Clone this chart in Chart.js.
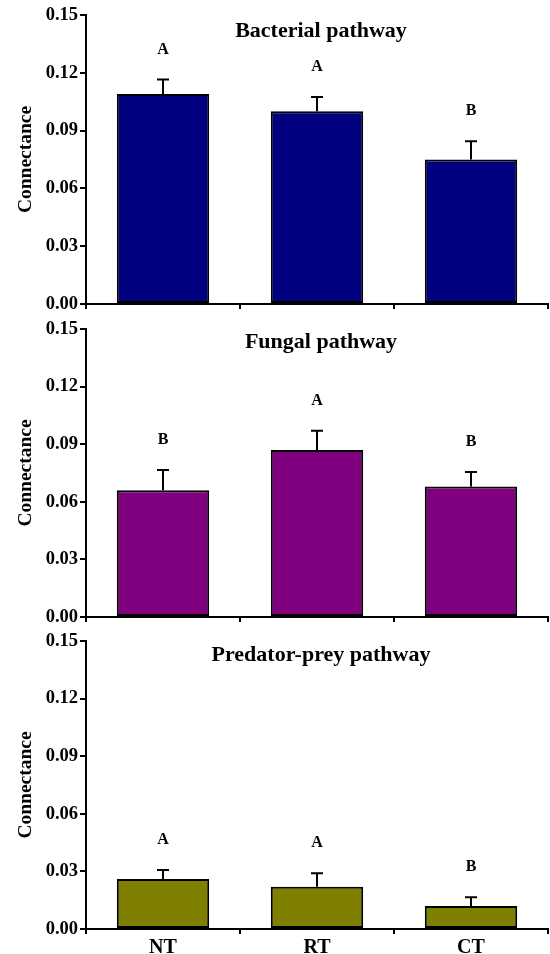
<!DOCTYPE html>
<html>
<head>
<meta charset="utf-8">
<script src="https://cdn.jsdelivr.net/npm/chart.js@4.4.1/dist/chart.umd.min.js"></script>
<style>
    body { margin: 0; background: #fff; }
    #wrap { position: relative; width: 550px; height: 954px; overflow: hidden; }
    canvas { position: absolute; left: 0; }
</style>
</head>
<body>
<div id="wrap">
    <canvas id="bacterialChart" width="550" height="324" style="top:0px"></canvas>
    <canvas id="fungalChart" width="550" height="327" style="top:310px"></canvas>
    <canvas id="predatorChart" width="550" height="329" style="top:625px"></canvas>
</div>
<script>
const categories = ['NT', 'RT', 'CT'];
const yTicks = [0, 0.03, 0.06, 0.09, 0.12, 0.15];

const bacterialMeans = [0.109, 0.100, 0.075];
const bacterialErrors = [0.0075, 0.0075, 0.0095];
const bacterialLetters = ['A', 'A', 'B'];

const fungalMeans = [0.066, 0.087, 0.068];
const fungalErrors = [0.0105, 0.010, 0.0075];
const fungalLetters = ['B', 'A', 'B'];

const predatorMeans = [0.026, 0.022, 0.012];
const predatorErrors = [0.0047, 0.007, 0.0045];
const predatorLetters = ['A', 'A', 'B'];

const serif = '"Liberation Serif", "Times New Roman", serif';

// error bars (upper half only) and the significance letters
const errorBarPlugin = {
    id: 'errorBars',
    afterDatasetsDraw(chart, args, opts) {
        const ctx = chart.ctx;
        const yScale = chart.scales.y;
        const meta = chart.getDatasetMeta(0);
        ctx.save();
        ctx.strokeStyle = '#000';
        ctx.lineWidth = 2;
        meta.data.forEach((bar, i) => {
            const top = yScale.getPixelForValue(opts.means[i] + opts.errors[i]);
            ctx.beginPath();
            ctx.moveTo(bar.x, bar.y);
            ctx.lineTo(bar.x, top);
            ctx.moveTo(bar.x - 6, top);
            ctx.lineTo(bar.x + 6, top);
            ctx.stroke();

            ctx.fillStyle = '#000';
            ctx.font = 'bold 16px ' + serif;
            ctx.textAlign = 'center';
            ctx.textBaseline = 'middle';
            ctx.fillText(opts.letters[i], bar.x, top - 30);
        });
        ctx.restore();
    }
};

// panel title drawn inside the plot area
const panelTitlePlugin = {
    id: 'panelTitle',
    afterDraw(chart, args, opts) {
        const area = chart.chartArea;
        const ctx = chart.ctx;
        ctx.save();
        ctx.fillStyle = '#000';
        ctx.font = 'bold 22px ' + serif;
        ctx.textAlign = 'center';
        ctx.textBaseline = 'middle';
        ctx.fillText(opts.text, (area.left + area.right) / 2 + 4, area.top + opts.offset);
        ctx.restore();
    }
};

function makePanel(canvasId, means, errors, letters, title, color, padTop, xHeight, titleOffset) {
    const ctx = document.getElementById(canvasId).getContext('2d');
    const showX = xHeight > 20;
    return new Chart(ctx, {
        type: 'bar',
        data: {
            labels: categories,
            datasets: [{
                data: means,
                backgroundColor: color,
                borderColor: '#000',
                borderWidth: 2,
                borderSkipped: false,
                barPercentage: 0.6,
                categoryPercentage: 1.0
            }]
        },
        options: {
            responsive: false,
            animation: false,
            devicePixelRatio: 1,
            layout: { padding: { top: padTop, right: 2, left: 0, bottom: 0 } },
            plugins: {
                legend: { display: false },
                tooltip: { enabled: false },
                errorBars: { means: means, errors: errors, letters: letters },
                panelTitle: { text: title, offset: titleOffset }
            },
            scales: {
                x: {
                    offset: true,
                    grid: {
                        offset: true,
                        drawOnChartArea: false,
                        drawTicks: true,
                        tickLength: 5,
                        color: '#000',
                        lineWidth: 2
                    },
                    border: { display: true, color: '#000', width: 2 },
                    ticks: {
                        display: showX,
                        color: '#000',
                        padding: 2,
                        font: { family: serif, size: 20, weight: 'bold' }
                    },
                    afterFit(scale) { scale.height = xHeight; }
                },
                y: {
                    min: 0,
                    max: 0.15,
                    afterBuildTicks(scale) { scale.ticks = yTicks.map(v => ({ value: v })); },
                    grid: {
                        drawOnChartArea: false,
                        drawTicks: true,
                        tickLength: 6,
                        color: '#000',
                        lineWidth: 2
                    },
                    border: { display: true, color: '#000', width: 2 },
                    ticks: {
                        color: '#000',
                        padding: 2,
                        font: { family: serif, size: 18.5, weight: 'bold' },
                        callback: v => Number(v).toFixed(2)
                    },
                    title: {
                        display: true,
                        text: 'Connectance',
                        color: '#000',
                        padding: { top: 14, bottom: 0 },
                        font: { family: serif, size: 19.5, weight: 'bold' }
                    },
                    afterFit(scale) { scale.width = 86; }
                }
            }
        },
        plugins: [errorBarPlugin, panelTitlePlugin]
    });
}

makePanel('bacterialChart', bacterialMeans, bacterialErrors, bacterialLetters,
    'Bacterial pathway', '#000080', 15, 20, 16);
makePanel('fungalChart', fungalMeans, fungalErrors, fungalLetters,
    'Fungal pathway', '#800080', 19, 20, 13);
makePanel('predatorChart', predatorMeans, predatorErrors, predatorLetters,
    'Predator-prey pathway', '#808000', 16, 25, 14);
</script>
</body>
</html>
